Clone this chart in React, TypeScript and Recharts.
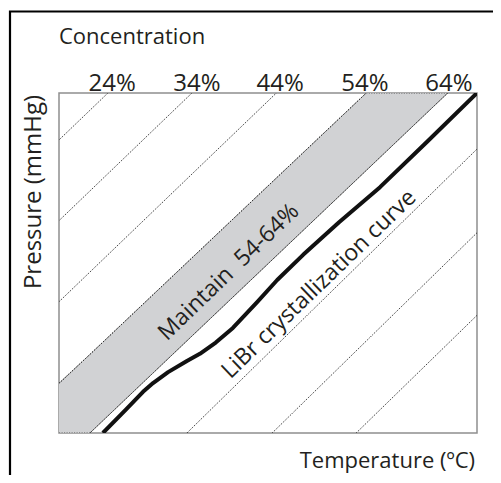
import { ComposedChart, Line, Area, XAxis, YAxis, ReferenceArea, ReferenceDot, Label } from 'recharts'

const FONT = '"Open Sans", "Noto Sans", sans-serif'
const INK = '#231f20'

// concentration scale along the top edge (positions on the temperature axis, 0-100)
const CONC_LABELS = ['24%', '34%', '44%', '54%', '64%']
const CONC_TICK_POS = [12.7, 33.0, 52.9, 73.2, 93.3]

// dotted iso-concentration lines: where each one meets the top (p=100) and bottom (p=0)
const ISO_TOP = [11.7, 31.8, 52.0, 73.5, 93.0, 113.7, 134.2, 154.6]
const ISO_BOTTOM = [-73.0, -52.9, -32.7, -12.5, 7.4, 30.6, 51.0, 71.1]

// grey "maintain" band between the 54% and 64% lines
const BAND_T = [0, 7.4, 73.5, 93.0]
const BAND_LOW = [0, 0, 77.2, 100]
const BAND_HIGH = [14.7, 23.1, 100, 100]

// LiBr crystallization curve
const CURVE_T = [10.5, 16.0, 20.1, 22.5, 26.1, 30.6, 33.7, 37.5, 41.6, 47.4, 52.2, 58.4, 67.0, 76.8, 88.0, 100]
const CURVE_P = [0, 6.9, 12.1, 14.7, 17.9, 21.2, 23.3, 26.6, 30.9, 38.5, 45.0, 52.4, 62.0, 72.3, 85.6, 100]

const isoLines = ISO_TOP.map((top, i) => [
    { t: ISO_BOTTOM[i], p: 0 },
    { t: top, p: 100 },
])
const band = BAND_T.map((t, i) => ({ t, range: [BAND_LOW[i], BAND_HIGH[i]] }))
const curve = CURVE_T.map((t, i) => ({ t, p: CURVE_P[i] }))

const tickStyle = { fontFamily: FONT, fontSize: 24, fill: INK }
const noteStyle = { fontFamily: FONT, fontSize: 23, fill: INK }

export default function App() {
    return (
        <div
            style={{
                position: 'relative',
                width: 501,
                height: 483,
                margin: -8,
                overflow: 'hidden',
                background: '#fff',
                fontFamily: FONT,
                color: INK,
            }}
        >
            <div style={{ position: 'absolute', left: 59, top: 24, fontSize: 22, lineHeight: '22px' }}>
                Concentration
            </div>
            <div
                style={{
                    position: 'absolute',
                    right: 26,
                    top: 448,
                    fontSize: 22,
                    lineHeight: '22px',
                    whiteSpace: 'nowrap',
                }}
            >
                Temperature (ºC)
            </div>
            <div
                style={{
                    position: 'absolute',
                    left: 31.5 - 110,
                    top: 192 - 12,
                    width: 220,
                    height: 24,
                    fontSize: 24,
                    lineHeight: '24px',
                    textAlign: 'center',
                    whiteSpace: 'nowrap',
                    transform: 'rotate(-90deg)',
                }}
            >
                Pressure (mmHg)
            </div>

            <ComposedChart
                width={501}
                height={483}
                margin={{ top: 63, right: 24, bottom: 50, left: 59 }}
                style={{ position: 'absolute', left: 0, top: 0 }}
            >
                <XAxis
                    dataKey="t"
                    type="number"
                    orientation="top"
                    domain={[0, 100]}
                    allowDataOverflow
                    height={30}
                    ticks={CONC_TICK_POS}
                    tickFormatter={(v: number) => CONC_LABELS[CONC_TICK_POS.indexOf(v)] ?? ''}
                    tick={tickStyle}
                    tickLine={false}
                    axisLine={false}
                    tickSize={0}
                    tickMargin={2}
                    interval={0}
                />
                <YAxis type="number" domain={[0, 100]} allowDataOverflow hide />

                <ReferenceArea x1={0} x2={100} y1={0} y2={100} fill="none" stroke="#8f8f8f" strokeWidth={1.5} />

                <Area
                    data={band}
                    dataKey="range"
                    type="linear"
                    fill="#d1d2d4"
                    fillOpacity={1}
                    stroke="#444"
                    strokeWidth={1}
                    strokeDasharray="1.2 1.3"
                    isAnimationActive={false}
                />

                {isoLines.map((d, i) => (
                    <Line
                        key={i}
                        data={d}
                        dataKey="p"
                        type="linear"
                        stroke="#2a2a2a"
                        strokeWidth={1}
                        strokeDasharray="1.2 1.3"
                        dot={false}
                        activeDot={false}
                        isAnimationActive={false}
                    />
                ))}

                <Line
                    data={curve}
                    dataKey="p"
                    type="linear"
                    stroke="#111"
                    strokeWidth={4}
                    strokeLinejoin="round"
                    dot={false}
                    activeDot={false}
                    isAnimationActive={false}
                />

                <ReferenceDot x={40.4} y={47.6} r={0} fill="none" stroke="none">
                    <Label value={'Maintain \u00A054-64%'} position="center" angle={-44} {...noteStyle} />
                </ReferenceDot>
                <ReferenceDot x={62} y={44} r={0} fill="none" stroke="none">
                    <Label value="LiBr crystallization curve" position="center" angle={-44} {...noteStyle} />
                </ReferenceDot>
            </ComposedChart>

            {/* outer frame, left and top edges */}
            <svg
                width={501}
                height={483}
                style={{ position: 'absolute', left: 0, top: 0, zIndex: 3, pointerEvents: 'none' }}
            >
                <path d="M10 483 V11.5 H501" fill="none" stroke="#000" strokeWidth={2.2} />
            </svg>
        </div>
    )
}
